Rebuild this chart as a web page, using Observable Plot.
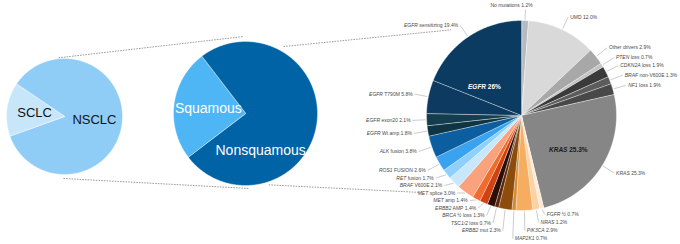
<!DOCTYPE html>
<html><head><meta charset="utf-8">
<script src="https://cdn.jsdelivr.net/npm/d3@7"></script>
<script src="https://cdn.jsdelivr.net/npm/@observablehq/plot@0.6"></script>
<style>body{margin:0;background:#fff}</style>
</head><body><div id="chart"></div>
<script>
// ---- data ----
const lungTypes = ["NSCLC", "SCLC"];
const lungShares = [85, 15];
const lungColors = ["#8fcdf7", "#c8e6fa"];

const histTypes = ["Nonsquamous", "Squamous"];
const histShares = [75, 25];
const histColors = ["#0063a5", "#4fb6f6"];

const driverGene = ["", "", "", "PTEN", "CDKN2A", "BRAF", "NF1", "KRAS", "FGFR ½", "NRAS", "PIK3CA", "MAP2K1", "ERBB2", "TSC1/2", "BRCA ½", "ERBB2", "MET", "MET", "BRAF", "RET", "ROS1", "ALK", "EGFR", "EGFR", "EGFR", "EGFR"];
const driverText = ["No mutations", "UMD", "Other drivers", " loss", " loss", " non-V600E", " loss", "", "", "", "", "", " mut", " loss", " loss", " AMP", " amp", " splice", " V600E", " fusion", " FUSION", " fusion", " Wt amp", " exon20", " T790M", " sensitizing"];
const driverValues = [1.2, 12.0, 2.9, 0.7, 1.9, 1.3, 1.9, 25.3, 0.7, 1.2, 2.9, 0.7, 2.3, 0.7, 1.3, 1.4, 1.4, 3.0, 2.1, 1.7, 2.6, 3.8, 1.8, 2.1, 5.8, 19.4];
const driverColors = ["#b5bac2", "#d9d9d9", "#a8a8a8", "#c4c4c4", "#3a3a3a", "#5c5c5c", "#484848", "#868686", "#fde9d6", "#fcd2a4", "#f7ad60", "#d48a30", "#8e4c0c", "#5a2607", "#2c0e04", "#cf4212", "#f06c2e", "#f9a27d", "#c8e7fb", "#8ed0fc", "#3aa3ef", "#0b5e9f", "#0f3443", "#123e4d", "#0c3a60", "#0b3b61"];

const groupGenes = ["EGFR", "KRAS"];
const groupLabels = [" 26%", " 25.3%"];
const groupTextColors = ["#ffffff", "#1a1a1a"];

// ---- layout ----
const W = 680, H = 244;
const P1 = {x: 64, y: 116, r: 58, start: -56};
const P2 = {x: 245, y: 113, r: 72, start: -37.5};
const P3 = {x: 521, y: 115, r: 95, start: 0};
const rad = d => d * Math.PI / 180;
const pt = (c, aRad, rr) => [c.x + rr * Math.sin(aRad), c.y - rr * Math.cos(aRad)];

function arcsFor(values, c) {
  return d3.pie().sort(null).value(d => d).startAngle(rad(c.start)).endAngle(rad(c.start) + 2 * Math.PI)(values);
}
function polys(arcs, c, colors, key) {
  const out = [];
  arcs.forEach((a, i) => {
    const id = key + i, fill = colors[i];
    out.push({id, x: c.x, y: c.y, fill});
    const n = Math.max(2, Math.ceil((a.endAngle - a.startAngle) / (Math.PI / 360)));
    for (let k = 0; k <= n; k++) {
      const t = a.startAngle + (a.endAngle - a.startAngle) * k / n;
      const [x, y] = pt(c, t, c.r);
      out.push({id, x, y, fill});
    }
  });
  return out;
}

const arcs1 = arcsFor(lungShares, P1);
const arcs2 = arcsFor(histShares, P2);
const arcs3 = arcsFor(driverValues, P3);

const slices = [
  ...polys(arcs1, P1, lungColors, "a"),
  ...polys(arcs2, P2, histColors, "b"),
  ...polys(arcs3, P3, driverColors, "c")
];

const mid = a => (a.startAngle + a.endAngle) / 2;
const lungLabels = arcs1.map((a, i) => { const [x, y] = pt(P1, mid(a), P1.r * 0.52); return {x, y, t: lungTypes[i]}; });
const histLabels = arcs2.map((a, i) => { const [x, y] = pt(P2, mid(a), P2.r * 0.52); return {x, y, t: histTypes[i], big: i === 0}; });

// dashed connectors (polar anchors on neighbouring pies)
const conn = [
  [P1, -5.8, 1, P2, -1.5, 5],
  [P1, 181, 4, P2, 177.7, 3],
  [P2, 29.6, 5, P3, -39.5, 16],
  [P2, 162, 3, P3, 232.7, 32]
].map(([a, aa, ar, b, ba, br]) => {
  const [x1, y1] = pt(a, rad(aa), a.r + ar);
  const [x2, y2] = pt(b, rad(ba), b.r + br);
  return {x1, y1, x2, y2};
});

// outer labels for the driver pie
const R = P3.r + 14;
const items = arcs3.map((a, i) => {
  const m = mid(a);
  const [x, y] = pt(P3, m, R);
  const [ex, ey] = pt(P3, m, P3.r + 1);
  const deg = m * 180 / Math.PI;
  const side = deg < 6 ? "top" : deg < 186 ? "right" : "left";
  return {i, deg, x, y, ex, ey, side, gene: driverGene[i], rest: driverText[i] + " " + driverValues[i].toFixed(1) + "%"};
});
function spread(list, gap, maxY) {
  for (let k = 1; k < list.length; k++) list[k].y = Math.max(list[k].y, list[k - 1].y + gap);
  const n = list.length;
  if (list[n - 1].y > maxY) {
    list[n - 1].y = maxY;
    for (let k = n - 2; k >= 0; k--) list[k].y = Math.min(list[k].y, list[k + 1].y - gap);
  }
}
const rightItems = items.filter(d => d.side !== "left").sort((a, b) => a.deg - b.deg);
const leftItems = items.filter(d => d.side === "left").sort((a, b) => b.deg - a.deg);
spread(rightItems, 8, 238);
spread(leftItems, 7.5, 230);
items.forEach(d => {
  d.full = d.gene + d.rest;
  if (d.side === "right") { d.tx = d.x + 2; d.ty = d.y; d.lx = d.x; d.ly = d.y; }
  else if (d.side === "left") { d.tx = d.x - 2; d.ty = d.y; d.lx = d.x; d.ly = d.y; }
  else { d.tx = d.x - 14; d.ty = d.y - 1; d.lx = d.x; d.ly = d.y + 3; }
});
const leftLab = items.filter(d => d.side === "left");
const rightLab = items.filter(d => d.side === "right");
const topLab = items.filter(d => d.side === "top");

// group labels inside the big pie
const inner = groupGenes.map((g, k) => {
  const members = arcs3.filter((a, i) => driverGene[i] === g);
  const s = d3.min(members, a => a.startAngle), e = d3.max(members, a => a.endAngle);
  const [x, y] = pt(P3, (s + e) / 2, P3.r * (k === 0 ? 0.5 : 0.58));
  return {x, y: y + (k === 0 ? 1 : 5), gene: g, rest: groupLabels[k], full: g + groupLabels[k], color: groupTextColors[k]};
});

const font = "'Liberation Sans', Arial, Helvetica, sans-serif";
const chart = Plot.plot({
  width: W, height: H, margin: 0,
  style: {fontFamily: font, background: "#fff"},
  x: {domain: [0, W], range: [0, W], axis: null},
  y: {domain: [0, H], range: [0, H], axis: null},
  color: {type: "identity"},
  marks: [
    Plot.link(conn, {x1: "x1", y1: "y1", x2: "x2", y2: "y2", stroke: "#9d9d9d", strokeWidth: 1, strokeDasharray: "1.6,1.1"}),
    Plot.line(slices, {x: "x", y: "y", z: "id", fill: "fill", stroke: "#ffffff", strokeWidth: 0.4, curve: "linear-closed"}),
    Plot.text(lungLabels, {x: "x", y: "y", text: "t", fill: "#111", fontSize: 13}),
    Plot.text(histLabels.filter(d => !d.big), {x: "x", y: "y", text: "t", fill: "#fff", fontSize: 14}),
    Plot.text(histLabels.filter(d => d.big), {x: "x", y: "y", text: "t", fill: "#fff", fontSize: 14, dx: -22, dy: 32}),
    Plot.link(items, {x1: "ex", y1: "ey", x2: "lx", y2: "ly", stroke: "#aaaaaa", strokeWidth: 0.6}),
    Plot.text(leftLab, {x: "tx", y: "ty", text: "full", textAnchor: "end", fontSize: 5, fill: "#4a4a4a"}),
    Plot.text(rightLab, {x: "tx", y: "ty", text: "full", textAnchor: "start", fontSize: 5, fill: "#4a4a4a"}),
    Plot.text(topLab, {x: "tx", y: "ty", text: "full", textAnchor: "middle", fontSize: 5, fill: "#4a4a4a"}),
    Plot.text(inner, {x: "x", y: "y", text: "full", fill: "color", fontSize: 6.5, fontWeight: "bold"})
  ]
});

// italic gene names inside labels (match rendered texts by content)
const NS = "http://www.w3.org/2000/svg";
const byText = new Map([...items, ...inner].map(d => [d.full, d]));
chart.querySelectorAll("text").forEach(t => {
  const d = byText.get(t.textContent);
  if (!d) return;
  t.textContent = "";
  t.setAttribute("style", "white-space:pre");
  if (d.gene) {
    const s = document.createElementNS(NS, "tspan");
    s.setAttribute("font-style", "italic");
    s.textContent = d.gene;
    t.appendChild(s);
  }
  const s2 = document.createElementNS(NS, "tspan");
  s2.textContent = d.rest;
  t.appendChild(s2);
});

document.getElementById("chart").appendChild(chart);
</script>
</body></html>
